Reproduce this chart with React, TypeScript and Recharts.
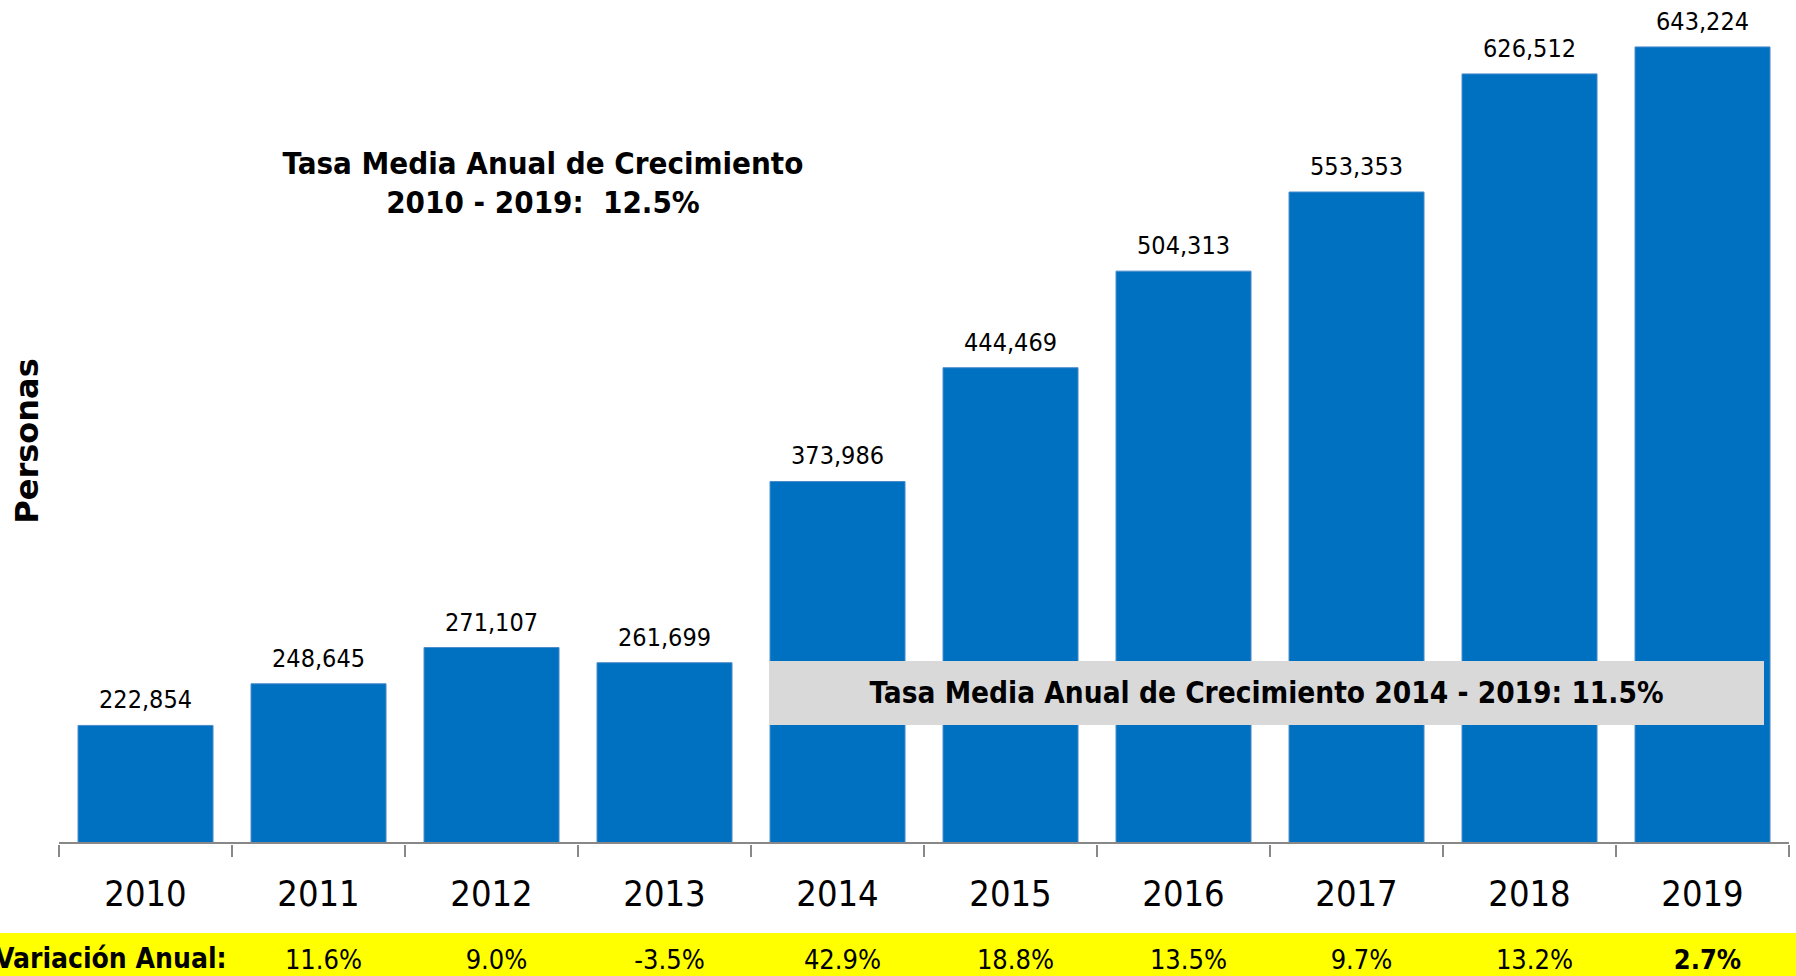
import { BarChart, Bar, XAxis, YAxis, LabelList } from 'recharts';

const years = ['2010', '2011', '2012', '2013', '2014', '2015', '2016', '2017', '2018', '2019'];
const personas = [222854, 248645, 271107, 261699, 373986, 444469, 504313, 553353, 626512, 643224];
const variacion = ['', '11.6%', '9.0%', '-3.5%', '42.9%', '18.8%', '13.5%', '9.7%', '13.2%', '2.7%'];

const data = years.map((year, i) => ({ year, personas: personas[i], variacion: variacion[i] }));

const W = 1796;
const H = 976;
const LEFT = 59;
const RIGHT = 7;
const BAND = (W - LEFT - RIGHT) / years.length;

const condensed = "'DejaVu Sans Condensed', 'DejaVu Sans', sans-serif";

// year label + yellow-strip value + tick marks at the category edges
const YearTick = (props: any) => {
  const { x, y, payload, index } = props;
  const i = payload.index ?? index;
  const left = x - BAND / 2;
  const right = x + BAND / 2;
  return (
    <g>
      <line x1={left} y1={y} x2={left} y2={y + 12} stroke="#888" strokeWidth={2} />
      {i === years.length - 1 && <line x1={right} y1={y} x2={right} y2={y + 12} stroke="#888" strokeWidth={2} />}
      <text x={x} y={y + 61} textAnchor="middle" fontSize={36} fontFamily={condensed} style={{ fontStretch: 'condensed' }} fill="#000">
        {payload.value}
      </text>
      <text x={x + 5} y={y + 124} textAnchor="middle" fontSize={27} fontFamily={condensed}
        fontWeight={i === years.length - 1 ? 'bold' : 'normal'} style={{ fontStretch: 'condensed' }} fill="#000">
        {variacion[i]}
      </text>
    </g>
  );
};

export default function App() {
  return (
    <div style={{ position: 'absolute', left: 0, top: 0, width: W, height: H, background: '#fff', overflow: 'hidden' }}>
      <div style={{ position: 'absolute', left: 0, top: 933, width: W, height: 43, background: '#ffff00' }} />
      <div style={{ position: 'absolute', left: 0, top: 0 }}>
        <BarChart width={W} height={H} data={data} margin={{ top: 36, right: RIGHT, left: LEFT, bottom: 0 }} barCategoryGap="11%">
          <XAxis dataKey="year" height={133} axisLine={{ stroke: '#888', strokeWidth: 2 }} tickLine={false} tickSize={0} interval={0} tick={<YearTick />} />
          <YAxis hide domain={[150000, 650000]} allowDataOverflow />
          <Bar dataKey="personas" fill="#0070c0" stroke="#4a8ccc" strokeWidth={1} isAnimationActive={false}>
            <LabelList dataKey="personas" position="top" offset={17}
              formatter={(v: any) => Number(v).toLocaleString('en-US')}
              style={{ fontSize: 25, fontFamily: condensed, fontStretch: 'condensed', fill: '#000' }} />
          </Bar>
        </BarChart>
      </div>
      <div style={{ position: 'absolute', left: -5, top: 943, fontFamily: condensed, fontStretch: 'condensed', fontWeight: 'bold', fontSize: 28, lineHeight: '32px', color: '#000' }}>
        Variación Anual:
      </div>
      <div style={{ position: 'absolute', left: 243, top: 144, width: 600, textAlign: 'center', fontFamily: condensed, fontStretch: 'condensed', fontWeight: 'bold', fontSize: 31, lineHeight: '39px', color: '#000' }}>
        Tasa Media Anual de Crecimiento<br />2010 - 2019:&nbsp; 12.5%
      </div>
      <div style={{ position: 'absolute', left: 769, top: 661, width: 995, height: 64, background: '#d9d9d9', display: 'flex', alignItems: 'center', justifyContent: 'center',
        fontFamily: condensed, fontStretch: 'condensed', fontWeight: 'bold', fontSize: 29.5, color: '#000' }}>
        Tasa Media Anual de Crecimiento 2014 - 2019: 11.5%
      </div>
      <div style={{ position: 'absolute', left: 27, top: 441, transform: 'translate(-50%, -50%) rotate(-90deg)', whiteSpace: 'nowrap',
        fontFamily: "'DejaVu Sans', sans-serif", fontWeight: 'bold', fontSize: 32, color: '#000' }}>
        Personas
      </div>
    </div>
  );
}
